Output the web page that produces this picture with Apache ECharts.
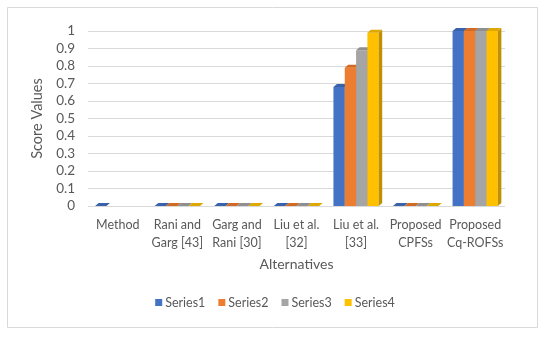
<!DOCTYPE html>
<html>
<head>
<meta charset="utf-8">
<script src="https://cdn.jsdelivr.net/npm/echarts@6/dist/echarts.min.js"></script>
<style>html,body{margin:0;padding:0;background:#fff;}#c{width:550px;height:338px;}</style>
</head>
<body>
<div id="c"></div>
<script>
const categories = ['Method', 'Rani and\nGarg [43]', 'Garg and\nRani [30]', 'Liu et al.\n[32]', 'Liu et al.\n[33]', 'Proposed\nCPFSs', 'Proposed\nCq-ROFSs'];
const seriesNames = ['Series1', 'Series2', 'Series3', 'Series4'];
const series1 = [0, 0, 0, 0, 0.68, 0, 1];
const series2 = [null, 0, 0, 0, 0.79, 0, 1];
const series3 = [null, 0, 0, 0, 0.89, 0, 1];
const series4 = [null, 0, 0, 0, 0.99, 0, 1];
const allValues = [series1, series2, series3, series4];
const frontColors = ['#4472C4', '#ED7D31', '#A5A5A5', '#FFC000'];
const sideColors = ['#2F528F', '#B45F1F', '#7B7B7B', '#BF9000'];
const topColors = ['#3A62AC', '#D06A25', '#8F8F8F', '#DDA800'];

const chart = echarts.init(document.getElementById('c'), null, {renderer: 'canvas'});
const FONT = 'Lato';

function makeRender(si) {
  return function (params, api) {
    const v = api.value(1);
    if (v === null || v === undefined || isNaN(v)) return null;
    const ci = api.value(0);
    const base = api.coord([ci, 0]);
    const top = api.coord([ci, v]);
    const band = api.size([1, 0])[0];
    const groupW = band * 0.76;
    const bw = groupW / 4;
    const x = base[0] - groupW / 2 + si * bw;
    const y0 = base[1];
    const y1 = top[1];
    const d = 3.5, dy = 3;
    const children = [];
    if (y0 - y1 > 0.01) {
      children.push({type: 'rect', shape: {x: x, y: y1, width: bw, height: y0 - y1}, style: {fill: frontColors[si]}});
      children.push({type: 'polygon', shape: {points: [[x + bw, y1], [x + bw + d, y1 - dy], [x + bw + d, y0 - dy], [x + bw, y0]]}, style: {fill: sideColors[si]}});
    }
    children.push({type: 'polygon', shape: {points: [[x, y1], [x + d, y1 - dy], [x + bw + d, y1 - dy], [x + bw, y1]]}, style: {fill: topColors[si]}});
    return {type: 'group', children: children};
  };
}

const series = allValues.map(function (vals, si) {
  return {
    name: seriesNames[si],
    type: 'custom',
    renderItem: makeRender(si),
    itemStyle: {color: frontColors[si]},
    encode: {x: 0, y: 1},
    data: vals.map(function (v, i) { return [i, v]; }),
    clip: false
  };
});

chart.setOption({
  animation: false,
  backgroundColor: '#ffffff',
  textStyle: {fontFamily: FONT},
  graphic: [{
    type: 'rect', shape: {x: 7.5, y: 7.5, width: 530, height: 320},
    style: {fill: 'none', stroke: '#d9d9d9', lineWidth: 1}, z: -10
  }],
  grid: {left: 88, right: 45, top: 31, bottom: 132},
  legend: {
    data: seriesNames,
    bottom: 24,
    left: 'center',
    icon: 'rect',
    itemWidth: 7,
    itemHeight: 7,
    itemGap: 13,
    textStyle: {color: '#595959', fontSize: 12.5, fontFamily: FONT, padding: [0, 0, 0, -2]}
  },
  xAxis: {
    type: 'category',
    data: categories,
    name: 'Alternatives',
    nameLocation: 'middle',
    nameGap: 51,
    nameTextStyle: {color: '#595959', fontSize: 14, fontFamily: FONT},
    axisLine: {show: false},
    axisTick: {show: false},
    axisLabel: {color: '#595959', fontSize: 12.5, fontFamily: FONT, lineHeight: 18, margin: 10, interval: 0}
  },
  yAxis: {
    type: 'value',
    min: 0, max: 1, interval: 0.1,
    name: 'Score Values',
    nameLocation: 'middle',
    nameGap: 38,
    nameRotate: 90,
    nameTextStyle: {color: '#595959', fontSize: 14.5, fontFamily: FONT},
    axisLine: {show: false},
    axisTick: {show: false},
    axisLabel: {color: '#595959', fontSize: 13.5, fontFamily: FONT, margin: 13,
      formatter: function (v) { return String(Math.round(v * 10) / 10); }},
    splitLine: {lineStyle: {color: '#d9d9d9', width: 1}}
  },
  series: series
});
</script>
</body>
</html>
